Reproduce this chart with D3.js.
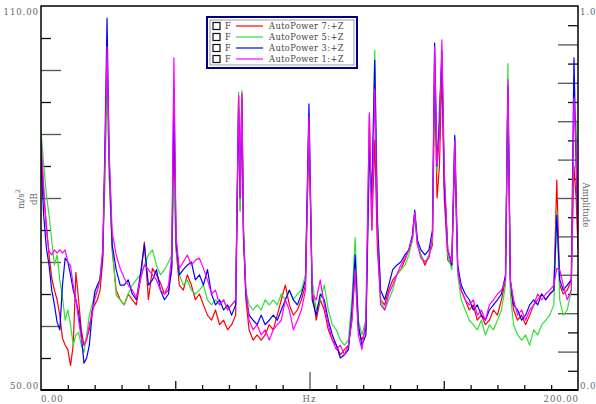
<!DOCTYPE html>
<html>
<head>
<meta charset="utf-8">
<script src="https://cdn.jsdelivr.net/npm/d3@7"></script>
<style>
  body { margin: 0; background: #fff; }
  svg { display: block; font-family: "DejaVu Serif", "Liberation Serif", serif; }
  .lbl { fill: #666; font-size: 8.6px; letter-spacing: 0.9px; }
  .ttl { fill: #666; font-size: 8.6px; }
  .leg { fill: #444; font-size: 8.3px; letter-spacing: 0.4px; }
</style>
</head>
<body>
<svg id="chart" width="596" height="404"></svg>
<script>
// frequency grid (Hz), shared by all series
const freqHz = [0,1,2,3,4,5,6,7,8,9,10,11,12,13,14,15,16,17,18,19,20,21,22,23,
  23.8,24.6,25.4,
  26.5,28,29.5,31,32.5,34,35.5,37,38.5,40,41.5,43,44.5,46,47.5,48.7,
  49.5,50.3,
  51.5,53,54.5,56,57.5,59,60.5,62,63.5,65,66.5,68,69.5,71,72.5,
  73.6,74.2,74.8,75.4,
  76.3,77.5,79,80.5,82,83.5,85,86.5,88,89.5,91,92.5,94,95.5,97,98.5,
  99.8,
  101,102.5,104,105.5,107,108.5,110,111.5,113,114.5,115.8,
  117,
  118.2,119.5,121,
  122.3,123.2,124.3,125.3,
  126.5,128,129.5,131,132.5,134,135.5,137,138.3,
  139.2,140.2,141.5,143,144.5,145.8,
  146.6,147.5,148.4,149.3,150.2,
  151.5,153,
  154.1,
  155.2,156.5,158,159.5,161,162.5,164,165.5,167,168.5,170,171.5,173,
  173.9,
  174.8,176,177.5,179,180.5,182,183.5,185,186.5,188,189.5,191,
  192.1,
  193.2,194.5,196,197.5,
  198.5,199.3,200];

// dB values
const ap7 = [87.5,80.5,75.8,71.1,67.5,65.6,64.1,61.7,58.1,57,56.3,53.8,57,68.4,64.1,59.4,57,58.1,59.4,62.5,63.3,64.1,65.6,70.3,
  85,101,84,
  71.9,65.6,64.1,63.3,65,64.1,63.3,67.2,73.1,64.1,69,68,66.7,65,65.6,68.8,
  93,72,
  66.4,65.6,68,66.4,64.1,65,63.3,61.7,60.9,62.5,60.2,60.9,59.4,60.2,61.7,
  96,78,96.4,75,
  64.1,59.4,57.8,58.6,57.8,58.6,60.2,59.4,61.7,64.1,66.4,63.3,61.7,62.5,64.1,66.4,
  90,
  65.6,60.9,64.1,62.5,59.4,57.8,57,55.5,56.3,57,60.9,
  69,
  59.4,57.8,59.4,
  93,75,89,72,
  64.1,63.3,65.6,67.2,68,68.8,70.3,71.9,73.4,
  77.3,72.7,71.1,69.5,71.1,72.7,
  98,80,85,100,80,
  70.3,69.5,
  86,
  68.8,65.6,64.1,62.5,63.3,60.9,61.7,60.2,60.9,62.5,61.7,64.1,67.2,
  97,
  66.4,62.5,60.9,61.7,60.2,61.7,63.3,64.1,65,64.1,65,65.6,
  82.8,
  66.4,65,65.6,67.2,
  85,80,72];

const ap5 = [90.6,85.2,80.5,77.3,73.4,69.5,71.1,67.2,64.5,60.9,62.5,60.2,57,58.6,59,57,55.9,58.6,61.7,63.3,64.8,65.6,68,71.9,
  82,99,83,
  72.7,64.8,64.1,63.3,65,66.4,67.2,68,69.5,71.1,71.9,69.5,68,68.8,70,71.1,
  82,72,
  68,66.4,67.2,65.6,65,65.6,66.4,64.1,63.3,64.1,63.3,64.1,62.5,63.3,64.1,
  96.5,78,96.8,76,
  65.6,63.3,62.5,63.3,62.5,64.1,63.3,64.1,63.3,65,64.1,65.6,64.1,65,65.6,68,
  93,
  67.2,62.5,64.1,66.4,62.5,60.2,59.4,57.8,57,57.8,64.1,
  73.8,
  60.9,58.6,60.9,
  86,80,103.1,78,
  64.1,62.5,64.1,65.6,68,68.8,69.5,71.1,73.4,
  77.3,72.7,71.1,70,71.1,73.4,
  101,84,95,101.6,84,
  71.1,68.8,
  89.5,
  68,64.1,62.5,60.9,60.2,59.4,60.9,58.6,60.2,59.4,60.9,62.5,66.4,
  101,
  65,60.2,58.6,57.8,58.6,57,59.4,58.6,60.2,60.9,61.7,63.3,
  78,
  64.1,61.7,62.5,65.6,
  93,92,73];

const ap3 = [85.9,77.3,72.2,69.5,65.6,63.3,60.6,59.4,66.4,70.6,70,68,65.6,64.1,62,58.6,54.2,55,57,61.7,65.3,66.4,67.2,71.1,
  88,108.1,86,
  72.7,68.8,66.4,66.4,67.2,65,64.1,68,72.7,66.4,67.2,68.8,65.6,64.1,65,69.5,
  97.2,73,
  68,68.8,69.5,70,67.2,68,66.4,68.8,65,63.3,64.1,62.5,63.3,61.7,63.3,
  94,80,95.5,74,
  65,61.7,60.9,60.2,61.7,60.2,60.9,61.7,60.9,62.5,64.1,65.6,64.1,63.3,65,67.2,
  94.7,
  64.1,61.7,65,64.1,60.9,58.6,57,55,55.5,56.3,62.5,
  71.1,
  60.2,57,58.6,
  88,80,101.5,76,
  65.6,64.1,66.4,68.8,69.5,70,71.1,71.9,74.2,
  78.1,73.4,71.9,71.1,71.9,75,
  104.2,85,92,103,82,
  71.9,69.5,
  89.8,
  69.5,66.4,65,64.1,62.5,63.3,61.7,60.9,62.5,63.3,64.1,65,68,
  97.5,
  67.2,63.3,62.5,60.9,61.7,63.3,64.1,63.3,65,64.1,65,65.6,
  77.3,
  67.2,65.6,66.4,67.2,
  101.9,85,75];

const ap1 = [89.1,82,75,71.6,71.1,71.9,71.4,71.9,71.4,71.9,70,69.4,66.4,64.1,60.9,58.1,57,57.8,60.2,61.7,64.1,65.6,67.2,71.9,
  86,103.6,87,
  74.7,71.1,69,67.5,66.4,65.6,64.4,67.2,69.5,68.8,68,67.2,65.6,65,66.4,71.1,
  101.9,74,
  69,70,71.1,69.5,70.3,70.6,69,67.2,65,65.6,63.3,64.1,62.5,63.3,64.1,
  96,80,96.4,75,
  65.6,60.9,59.4,60.2,58.6,59.4,57.8,59.4,60.2,60.9,64.1,62.5,59.4,60.9,62.5,65.6,
  92.7,
  65,64.1,67.2,63.3,60.2,57.8,56.3,57,55.5,57,60.9,
  68.8,
  58.6,56.3,60.9,
  93.3,75,97,74,
  63.3,62.5,65,66.4,68,69.5,70.6,71.9,73.8,
  77.8,72.7,70.6,70,70.6,74.2,
  103.6,85,90,104.7,84,
  71.9,70,
  89,
  68.8,65.6,64.1,63.3,64.1,61.7,62.5,60.9,63.3,64.1,65,65.6,67.2,
  98.5,
  67.2,64.1,61.7,62.5,60.9,62.5,63.3,65,64.1,65,65.6,66.4,
  69,
  68.8,66.4,64.1,65.6,
  95.6,88,72];

const seriesNames = ["AutoPower 7:+Z", "AutoPower 5:+Z", "AutoPower 3:+Z", "AutoPower 1:+Z"];
const seriesColors = ["#ff0000", "#33e033", "#0000ff", "#ff00ff"];
const seriesValues = [ap7, ap5, ap3, ap1];

const dbTicks = [55,60,65,70,75,80,85,90,95,100,105];
const ampTicks = d3.range(1, 20).map(i => i * 0.05);
const hzTicks = d3.range(10, 200, 10);

// layout
const plotL = 41, plotR = 578, plotT = 6, plotB = 390;

const svg = d3.select("#chart");
const x = d3.scaleLinear().domain([0, 200]).range([plotL, plotR]);
const y = d3.scaleLinear().domain([50, 110]).range([plotB, plotT]);
const yAmp = d3.scaleLinear().domain([0, 1]).range([plotB, plotT]);

seriesValues.forEach((v, i) => {
    if (v.length !== freqHz.length) console.warn(seriesNames[i], v.length, freqHz.length);
});

svg.append("clipPath").attr("id", "clip")
  .append("rect").attr("x", plotL).attr("y", plotT)
  .attr("width", plotR - plotL).attr("height", plotB - plotT);

// ticks via d3 axes (no labels, no domain)
function tickAxis(axis, tx, ty, color) {
    const g = svg.append("g").attr("transform", `translate(${tx},${ty})`).call(axis);
    g.select(".domain").remove();
    g.selectAll("text").remove();
    g.selectAll("line").attr("stroke", color).attr("stroke-width", 1.3);
    return g;
}
// left dB axis, ticks point into the plot
tickAxis(d3.axisRight(y).tickValues(dbTicks.filter(d => d % 10 !== 0)).tickSize(10), plotL, 0, "#111");
tickAxis(d3.axisRight(y).tickValues(dbTicks.filter(d => d % 10 === 0)).tickSize(20), plotL, 0, "#555");
// right amplitude axis
tickAxis(d3.axisLeft(yAmp).tickValues(ampTicks.filter((d, i) => i % 2 === 0)).tickSize(10), plotR, 0, "#111");
tickAxis(d3.axisLeft(yAmp).tickValues(ampTicks.filter((d, i) => i % 2 === 1)).tickSize(20), plotR, 0, "#555");
// bottom Hz axis
tickAxis(d3.axisTop(x).tickValues(hzTicks.filter(d => d % 50 !== 0)).tickSize(5), 0, plotB, "#111");
tickAxis(d3.axisTop(x).tickValues([50, 150]).tickSize(9), 0, plotB, "#111");
tickAxis(d3.axisTop(x).tickValues([100]).tickSize(18), 0, plotB, "#555");

// series lines
const line = d3.line()
    .x((d, i) => x(freqHz[i]))
    .y(d => y(d));
const gLines = svg.append("g").attr("clip-path", "url(#clip)");
seriesValues.forEach((v, i) => {
    gLines.append("path")
      .attr("d", line(v))
      .attr("fill", "none")
      .attr("stroke", seriesColors[i])
      .attr("stroke-width", 1.2)
      .attr("stroke-linejoin", "round");
});

// frame
svg.append("rect")
  .attr("x", plotL).attr("y", plotT)
  .attr("width", plotR - plotL).attr("height", plotB - plotT)
  .attr("fill", "none").attr("stroke", "#000").attr("stroke-width", 1.5);
svg.append("line").attr("x1", plotL).attr("x2", plotR).attr("y1", plotB).attr("y2", plotB)
  .attr("stroke", "#000").attr("stroke-width", 2);

// labels
const lbl = (t, px, py, anchor) => svg.append("text").attr("class", "lbl")
    .attr("x", px).attr("y", py).attr("text-anchor", anchor).text(t);
lbl("110.00", 39, 15, "end");
lbl("50.00", 39, 389, "end");
lbl("0.00", 41, 402, "start");
lbl("200.00", 579, 402, "end");
lbl("Hz", x(100), 402, "middle");
lbl("1.0", 580, 15, "start");
lbl("0.0", 580, 389, "start");

// axis titles
const mps = svg.append("text").attr("class", "ttl")
  .attr("transform", "translate(24,199) rotate(-90)")
  .attr("text-anchor", "middle");
mps.append("tspan").text("m/s");
mps.append("tspan").attr("dy", -4).attr("font-size", "6.5px").text("2");
svg.append("text").attr("class", "ttl")
  .attr("transform", "translate(37,199) rotate(-90)")
  .attr("text-anchor", "middle").text("dB");
svg.append("text").attr("class", "ttl")
  .attr("transform", "translate(583,205) rotate(90)")
  .attr("text-anchor", "middle").text("Amplitude");

// legend
const leg = svg.append("g");
leg.append("rect").attr("x", 207).attr("y", 17).attr("width", 150).attr("height", 51)
  .attr("fill", "#fff").attr("stroke", "#000080").attr("stroke-width", 2);
leg.append("rect").attr("x", 210).attr("y", 20).attr("width", 144).attr("height", 45)
  .attr("fill", "none").attr("stroke", "#6a6aa8").attr("stroke-width", 0.7);
seriesNames.forEach((name, i) => {
    const cy = 26 + i * 11;
    leg.append("rect").attr("x", 213).attr("y", cy - 3.5).attr("width", 7).attr("height", 7)
      .attr("fill", "#fff").attr("stroke", "#111").attr("stroke-width", 1.2);
    leg.append("text").attr("class", "leg").attr("x", 225).attr("y", cy + 3).text("F");
    leg.append("line").attr("x1", 236).attr("x2", 263).attr("y1", cy).attr("y2", cy)
      .attr("stroke", seriesColors[i]).attr("stroke-width", 1.2);
    leg.append("text").attr("class", "leg").attr("x", 269).attr("y", cy + 3).text(name);
});
</script>
</body>
</html>
